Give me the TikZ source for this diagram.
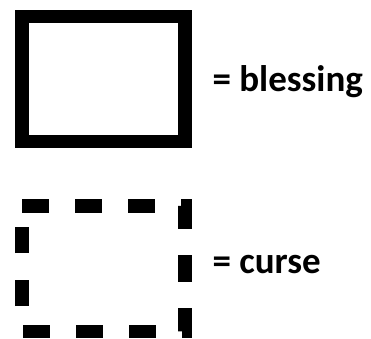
\documentclass[tikz,border=0pt]{standalone}
\usepackage{fontspec}
\setmainfont{Carlito}
\usetikzlibrary{positioning}
\tikzset{
  keybox/.style={
    rectangle, inner sep=0pt, outer sep=0pt,
    minimum width=163pt, minimum height=125pt
  },
  blessbox/.style={keybox, draw=black, line width=13.5pt},
  cursebox/.style={keybox, draw=none},
  curseline/.style={draw=black, line width=13.5pt, dash pattern=on 26.5pt off 26.5pt},
  keytext/.style={
    inner sep=0pt, outer sep=0pt, anchor=base west,
    font=\fontsize{37}{43}\selectfont\bfseries
  }
}

\begin{document}
\begin{tikzpicture}[x=1pt,y=1pt]
    \useasboundingbox (0,0) rectangle (371,338);
    \node[blessbox] (blessing) at (103.5,259) {};
    \node[cursebox,minimum height=125.5pt] (curse) at (103.5,69.25) {};
    \draw[curseline] (curse.north west)--(curse.north east)--(curse.south east)--(curse.south west)--cycle;
    \node[keytext] (blesslabel) at ([xshift=27.5pt,yshift=-12pt]blessing.east) {= blessing};
    \node[keytext] (curselabel) at ([xshift=27.5pt,yshift=-4.5pt]curse.east) {= curse};
  \end{tikzpicture}
\end{document}
